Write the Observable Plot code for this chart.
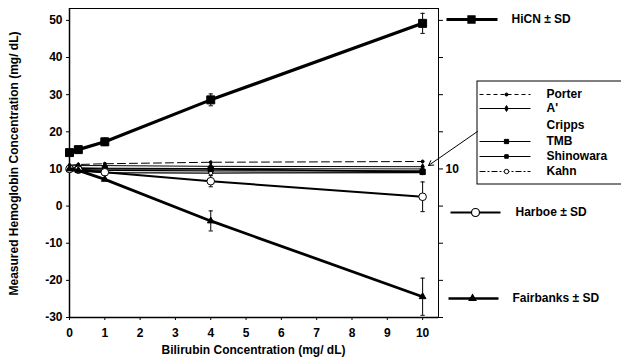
<!DOCTYPE html>
<html>
<head>
<meta charset="utf-8">
<script src="https://cdn.jsdelivr.net/npm/d3@7"></script>
<script src="https://cdn.jsdelivr.net/npm/@observablehq/plot@0.6"></script>
<style>
  html, body { margin: 0; padding: 0; background: #fff; }
  #chart { width: 621px; height: 360px; overflow: hidden; }
</style>
</head>
<body>
<div id="chart"></div>
<script>
// ---- data ----
const bilirubin = [0, 0.25, 1, 4, 10];
const hicn      = [14.4, 15.2, 17.3, 28.6, 49.2];
const hicnSD    = [0, 0, 1.0, 1.6, 2.7];
const harboe    = [10.0, 9.8, 9.1, 6.7, 2.5];
const harboeSD  = [0, 0, 0, 1.5, 4.0];
const fairbanks   = [10.0, 9.6, 7.2, -4.0, -24.4];
const fairbanksSD = [0, 0, 0, 2.7, 5.0];
const porter    = [11.0, 11.2, 11.4, 11.8, 12.0];
const aPrime    = [10.8, 10.9, 10.9, 10.7, 10.6];
const cripps    = [10.4, 10.3, 10.2, 10.1, 10.0];
const tmb       = [10.0, 10.1, 10.0, 10.0, 9.2];
const shinowara = [9.8, 9.8, 9.6, 9.5, 9.5];
const kahn      = [9.5, 9.4, 9.0, 8.9, 9.0];
const xTicks = [0, 1, 2, 3, 4, 5, 6, 7, 8, 9, 10];
const yTicks = [-30, -20, -10, 0, 10, 20, 30, 40, 50];
const xTitle = "Bilirubin Concentration (mg/ dL)";
const yTitle = "Measured Hemoglobin Concentration (mg/ dL)";
const boxLegendNames = ["Porter", "A'", "Cripps", "TMB", "Shinowara", "Kahn"];
const sideLegendNames = ["HiCN \u00b1 SD", "Harboe \u00b1 SD", "Fairbanks \u00b1 SD"];

// ---- layout ----
const W = 621, H = 360;
const mL = 69, mR = 183, mT = 8, mB = 43;
const xDom = [0, 10.45], yDom = [-30, 53.2];
// pixel -> data helpers for annotations placed outside the frame
const px = p => xDom[0] + (p - mL) / (W - mL - mR) * (xDom[1] - xDom[0]);
const py = p => yDom[1] - (p - mT) / (H - mT - mB) * (yDom[1] - yDom[0]);

const rows = (ys, sd) => bilirubin.map((x, i) => ({x, y: ys[i], sd: sd ? sd[i] : 0}));
const err = (ys, sd) => rows(ys, sd).filter(d => d.sd > 0);

function series(ys, {sw = 1, dash = null, symbol = null, r = 2, fill = "black"} = {}) {
  const out = [Plot.line(rows(ys), {x: "x", y: "y", stroke: "black", strokeWidth: sw, strokeDasharray: dash})];
  if (symbol) out.push(Plot.dot(rows(ys), {x: "x", y: "y", symbol, r, fill, stroke: "black", strokeWidth: 1}));
  return out;
}
function errorBars(ys, sd) {
  const e = err(ys, sd);
  const capData = e.flatMap(d => [{x: d.x, y: d.y - d.sd}, {x: d.x, y: d.y + d.sd}]);
  return [
    Plot.ruleX(e, {x: "x", y1: d => d.y - d.sd, y2: d => d.y + d.sd, stroke: "black", strokeWidth: 1}),
    Plot.link(capData, {x1: d => d.x - 0.06, x2: d => d.x + 0.06, y1: "y", y2: "y", stroke: "black", strokeWidth: 1})
  ];
}

// box legend rows
const boxRowsPx = [94, 108, 125, 141, 156, 171];
const boxStyles = [
  {dash: "4,3", symbol: "circle", r: 1.5, fill: "black", line: true},
  {dash: null, symbol: "diamond", r: 1.8, fill: "black", line: true},
  {line: false},
  {dash: null, symbol: "square", r: 2.4, fill: "black", line: true, sw: 1.2},
  {dash: null, symbol: "square", r: 2.0, fill: "black", line: true, sw: 1},
  {dash: "6,2,2,2", symbol: "circle", r: 2.2, fill: "white", line: true},
];
const boxMarks = [];
boxLegendNames.forEach((name, i) => {
  const s = boxStyles[i];
  const yv = py(boxRowsPx[i]);
  if (s.line) {
    boxMarks.push(Plot.link([0], {x1: px(479), x2: px(530), y1: yv, y2: yv, stroke: "black", strokeWidth: s.sw || 1, strokeDasharray: s.dash}));
    boxMarks.push(Plot.dot([0], {x: px(506), y: yv, symbol: s.symbol, r: s.r, fill: s.fill, stroke: "black", strokeWidth: 1}));
  }
  boxMarks.push(Plot.text([name], {x: px(546), y: yv, text: d => d, textAnchor: "start", fontWeight: "bold", fontSize: 12, fill: "black"}));
});

// side legends
const sideRowsPx = [19, 212, 298];
const sideStyles = [
  {x1: 446, x2: 497, mx: 471, sw: 3, symbol: "square", r: 4, fill: "black", tx: 511},
  {x1: 450, x2: 500, mx: 475, sw: 2, symbol: "circle", r: 4, fill: "white", tx: 515},
  {x1: 448, x2: 498, mx: 472, sw: 2.5, symbol: "triangle", r: 2.5, fill: "black", tx: 512},
];
const sideMarks = [];
sideLegendNames.forEach((name, i) => {
  const s = sideStyles[i];
  const yv = py(sideRowsPx[i]);
  sideMarks.push(Plot.link([0], {x1: px(s.x1), x2: px(s.x2), y1: yv, y2: yv, stroke: "black", strokeWidth: s.sw}));
  sideMarks.push(Plot.dot([0], {x: px(s.mx), y: yv, symbol: s.symbol, r: s.r, fill: s.fill, stroke: "black", strokeWidth: 1.2}));
  sideMarks.push(Plot.text([name], {x: px(s.tx), y: yv, text: d => d, textAnchor: "start", fontWeight: "bold", fontSize: 12, fill: "black"}));
});

const chart = Plot.plot({
  width: W, height: H,
  marginLeft: mL, marginRight: mR, marginTop: mT, marginBottom: mB,
  style: {fontFamily: "'Liberation Sans', Arial, sans-serif", fontSize: "12px", fontWeight: "bold", color: "black", background: "white"},
  x: {domain: xDom},
  y: {domain: yDom},
  marks: [
    Plot.frame({stroke: "black", strokeWidth: 1}),
    Plot.ruleX([0], {stroke: "black", strokeWidth: 1.5}),
    Plot.ruleY([-30], {stroke: "black", strokeWidth: 1.5}),
    Plot.axisY({ticks: yTicks, tickFormat: d => String(d), tickSize: 3, tickPadding: 4, anchor: "left", label: null, fontWeight: "bold", fontSize: 12}),
    Plot.axisY({ticks: yTicks, tickFormat: d => d === 10 ? "10" : "", tickSize: 4, tickPadding: 3, anchor: "right", label: null, fontWeight: "bold", fontSize: 12}),
    Plot.axisX({ticks: xTicks, tickFormat: d => String(d), tickSize: 3, tickPadding: 8, anchor: "bottom", label: null, fontWeight: "bold", fontSize: 12}),
    Plot.text([yTitle], {x: px(14), y: py(163), text: d => d, rotate: -90, fontWeight: "bold", fontSize: 12, fill: "black"}),
    Plot.text([xTitle], {x: px(253), y: py(350), text: d => d, fontWeight: "bold", fontSize: 12, fill: "black"}),
    // flat series
    ...series(porter, {sw: 1, dash: "8,4", symbol: "circle", r: 1.5}),
    ...series(aPrime, {sw: 1, symbol: "diamond", r: 1.8}),
    ...series(cripps, {sw: 1}),
    ...series(shinowara, {sw: 1.2, symbol: "square", r: 2.2}),
    ...series(kahn, {sw: 1.2, symbol: "circle", r: 2, fill: "white"}),
    ...series(tmb, {sw: 1.6, symbol: "square", r: 3}),
    // main series with SD
    ...errorBars(harboe, harboeSD),
    ...series(harboe, {sw: 2, symbol: "circle", r: 3.8, fill: "white"}),
    ...errorBars(fairbanks, fairbanksSD),
    ...series(fairbanks, {sw: 2.8, symbol: "triangle", r: 2.5}),
    ...errorBars(hicn, hicnSD),
    ...series(hicn, {sw: 3.2, symbol: "square", r: 4.5}),
    // legend box + arrow
    Plot.rect([0], {x1: px(477), x2: px(660), y1: py(81), y2: py(184), fill: "white", stroke: "black", strokeWidth: 1}),
    ...boxMarks,
    Plot.arrow([0], {x1: px(477), y1: py(131), x2: px(428), y2: py(165), stroke: "black", strokeWidth: 1, headLength: 8, bend: 0}),
    ...sideMarks,
  ]
});
document.getElementById("chart").appendChild(chart);
</script>
</body>
</html>
